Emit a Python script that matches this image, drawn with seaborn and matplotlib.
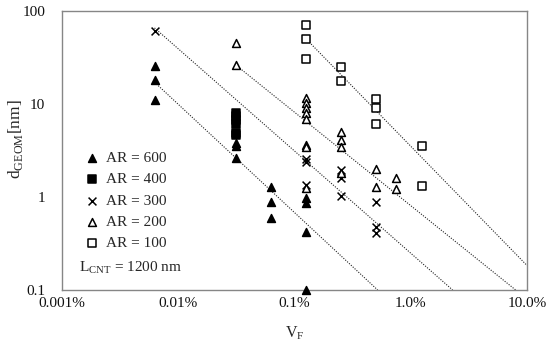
import numpy as np
import pandas as pd
import seaborn as sns
import matplotlib
matplotlib.use('Agg')
import matplotlib.pyplot as plt

# volume fraction (as fraction, shown as %) and geometric mean diameter [nm]
vf_600 = [6.25e-5, 6.25e-5, 6.25e-5, 3.125e-4, 3.125e-4, 3.125e-4,
          6.25e-4, 6.25e-4, 6.25e-4, 1.25e-3, 1.25e-3, 1.25e-3, 1.25e-3]
d_600 = [25.5, 18, 11, 3.8, 3.5, 2.6, 1.27, 0.89, 0.59, 0.97, 0.86, 0.42, 0.1]

vf_400 = [3.125e-4] * 6
d_400 = [8.0, 7.3, 6.7, 6.1, 4.8, 4.6]

vf_300 = [6.25e-5, 1.25e-3, 1.25e-3, 1.25e-3, 2.5e-3, 2.5e-3, 2.5e-3,
          5e-3, 5e-3, 5e-3]
d_300 = [60, 2.54, 2.39, 1.35, 1.95, 1.6, 1.01, 0.87, 0.48, 0.41]

vf_200 = [3.125e-4, 3.125e-4, 1.25e-3, 1.25e-3, 1.25e-3, 1.25e-3, 1.25e-3,
          1.25e-3, 1.25e-3, 1.25e-3, 2.5e-3, 2.5e-3, 2.5e-3, 2.5e-3,
          5e-3, 5e-3, 7.5e-3, 7.5e-3]
d_200 = [44.5, 26, 11.5, 10.2, 9.0, 8.0, 6.9, 3.6, 3.45, 1.24,
         5.0, 4.1, 3.4, 1.81, 1.99, 1.29, 1.58, 1.2]

vf_100 = [1.25e-3, 1.25e-3, 1.25e-3, 2.5e-3, 2.5e-3, 5e-3, 5e-3, 5e-3,
          1.25e-2, 1.25e-2]
d_100 = [70, 50, 30, 25, 17.3, 11.2, 9.0, 6.1, 3.5, 1.3]

# power-law trend lines d = d0 * (vf / vf0) ** (-n)
fit_ar = [600, 300, 200, 100]
fit_vf0 = [6.25e-5, 6.25e-5, 3.125e-4, 1.25e-3]
fit_d0 = [17, 65, 26, 50]
fit_n = [1.162, 1.097, 1.003, 1.28]

xtick_vals = [1e-5, 1e-4, 1e-3, 1e-2, 1e-1]
xtick_labels = ['0.001%', '0.01%', '0.1%', '1.0%', '10.0%']
ytick_vals = [0.1, 1, 10, 100]
ytick_labels = ['0.1', '1', '10', '100']

frames = []
for ar, vf, d in [(600, vf_600, d_600), (400, vf_400, d_400), (300, vf_300, d_300),
                  (200, vf_200, d_200), (100, vf_100, d_100)]:
    frames.append(pd.DataFrame({'vf': vf, 'd': d, 'AR': ar}))
df = pd.concat(frames, ignore_index=True)

sns.set_style('white')
plt.rcParams['font.family'] = ['Liberation Serif', 'DejaVu Serif']
plt.rcParams['mathtext.fontset'] = 'custom'
plt.rcParams['mathtext.rm'] = 'Liberation Serif'

fig = plt.figure(figsize=(5.5, 3.49), dpi=100)
ax = fig.add_axes([62 / 550, 1 - 290 / 349, 465 / 550, 279.5 / 349])

styles = {
    600: dict(marker='^', color='black', edgecolor='black', s=32),
    400: dict(marker='s', color='black', edgecolor='black', s=28),
    300: dict(marker='x', color='black', s=32),
    200: dict(marker='^', color='white', edgecolor='black', s=32),
    100: dict(marker='s', color='white', edgecolor='black', s=32),
}

for ar in [600, 400, 300, 200, 100]:
    sub = df[df['AR'] == ar]
    sns.scatterplot(data=sub, x='vf', y='d', ax=ax, linewidth=1.1,
                    label=f'AR = {ar}', clip_on=False, zorder=3, **styles[ar])

# dotted trend lines
for ar, vf0, d0, n in zip(fit_ar, fit_vf0, fit_d0, fit_n):
    vf_end = min(0.1, vf0 * (d0 / 0.1) ** (1 / n))
    xs = np.logspace(np.log10(vf0), np.log10(vf_end), 60)
    ys = d0 * (xs / vf0) ** (-n)
    ax.plot(xs, ys, linestyle=(0, (1, 1.3)), color='#222222', lw=0.8, zorder=2)

ax.set_xscale('log')
ax.set_yscale('log')
ax.set_xlim(1e-5, 0.1)
ax.set_ylim(0.1, 100)
ax.set_xticks(xtick_vals)
ax.set_xticklabels(xtick_labels)
ax.set_yticks(ytick_vals)
ax.set_yticklabels(ytick_labels)
ax.minorticks_off()
ax.tick_params(direction='in', length=4, color='#868686', labelsize=11,
               labelcolor='#111111')
ax.tick_params(axis='x', pad=5)
ax.tick_params(axis='y', pad=12)
for sp in ax.spines.values():
    sp.set_color('#868686')
    sp.set_linewidth(1.0)

ax.set_xlabel(r'V$_{\rm F}$', fontsize=11.5, labelpad=10)
ax.set_ylabel(r'd$_{\rm GEOM}$[nm]', fontsize=12.5)
ax.yaxis.set_label_coords(-0.08, 0.54)

ax.legend(loc='upper left', bbox_to_anchor=(0.015, 0.535), frameon=False,
          fontsize=11, handletextpad=0.1, labelspacing=0.5,
          handlelength=1.6, borderaxespad=0.3)
ax.text(0.037, 0.079, r'L$_{\rm CNT}$ = 1200 nm', transform=ax.transAxes,
        fontsize=11, va='center', ha='left')

fig.savefig('out.png', dpi=100)
